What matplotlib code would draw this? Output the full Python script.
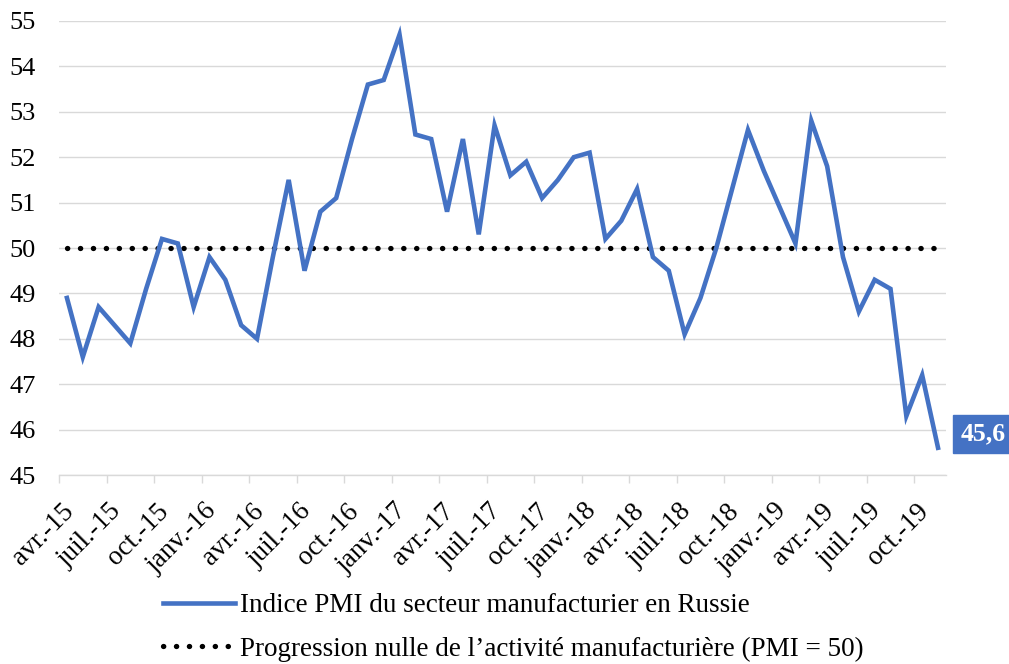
import matplotlib.pyplot as plt
from matplotlib.ticker import FixedLocator
from matplotlib.transforms import ScaledTranslation

plt.rcParams['font.family'] = ['Liberation Serif', 'DejaVu Serif']

# Indice PMI mensuel, avr. 2015 -> nov. 2019
pmi = [48.9, 47.6, 48.7, 48.3, 47.9, 49.1, 50.2, 50.1, 48.7,
       49.8, 49.3, 48.3, 48.0, 49.8, 51.5, 49.5, 50.8, 51.1, 52.4,
       53.6, 53.7, 54.7, 52.5, 52.4, 50.8, 52.4, 50.3, 52.7, 51.6,
       51.9, 51.1, 51.5, 52.0, 52.1, 50.2, 50.6, 51.3, 49.8, 49.5,
       48.1, 48.9, 50.0, 51.3, 52.6, 51.7, 50.9, 50.1, 52.8, 51.8,
       49.8, 48.6, 49.3, 49.1, 46.3, 47.2, 45.6]
seuil = [50.0] * len(pmi)
tick_labels = ['avr.-15', 'juil.-15', 'oct.-15', 'janv.-16', 'avr.-16', 'juil.-16',
               'oct.-16', 'janv.-17', 'avr.-17', 'juil.-17', 'oct.-17', 'janv.-18',
               'avr.-18', 'juil.-18', 'oct.-18', 'janv.-19', 'avr.-19', 'juil.-19',
               'oct.-19']
last_label = '45,6'

blue = '#4472C4'
x = list(range(len(pmi)))

fig = plt.figure(figsize=(10.09, 6.64), dpi=100)
ax = fig.add_axes([0.0585, 0.2846, 0.879, 0.6838])

ax.plot(x, pmi, color=blue, linewidth=3.3, solid_joinstyle='miter',
        label='Indice PMI du secteur manufacturier en Russie', zorder=3)
ax.plot(x, seuil, color='black', linewidth=3.8, linestyle=(0, (0.05, 2.4)),
        dash_capstyle='round',
        label='Progression nulle de l\u2019activité manufacturière (PMI = 50)', zorder=2)

ax.set_xlim(-0.5, len(pmi) - 0.5)
ax.set_ylim(45, 55)
ax.set_yticks(range(45, 56))
ax.yaxis.grid(True, color='#d9d9d9', linewidth=1)
ax.set_axisbelow(True)

for s in ['left', 'right', 'top']:
    ax.spines[s].set_visible(False)
ax.spines['bottom'].set_color('#d9d9d9')
ax.spines['bottom'].set_linewidth(1)

ax.tick_params(axis='y', length=0, pad=17, labelsize=19)
ax.set_xticks(range(0, len(pmi), 3))
ax.set_xticklabels(tick_labels, rotation=45, ha='right', va='top',
                   rotation_mode='anchor', fontsize=19.5)
ax.tick_params(axis='x', which='major', length=0, pad=17)
shift = ScaledTranslation(-4 / 72, 0, fig.dpi_scale_trans)
for lbl in ax.get_xticklabels():
    lbl.set_transform(lbl.get_transform() + shift)
ax.xaxis.set_minor_locator(FixedLocator([i - 0.5 for i in range(0, len(pmi), 3)]))
ax.tick_params(axis='x', which='minor', length=6, color='#d9d9d9', width=1)

ax.annotate(last_label, xy=(x[-1], pmi[-1]), xytext=(16, 10),
            textcoords='offset points', color='white', fontsize=18.5,
            fontweight='bold', ha='left', va='center',
            bbox=dict(boxstyle='square,pad=0.3', facecolor=blue, edgecolor=blue),
            annotation_clip=False)

fig.legend(loc='upper left', bbox_to_anchor=(163 / 1009, 1 - 593 / 664),
           frameon=False, fontsize=19.5, handlelength=2.65, handletextpad=0.2,
           labelspacing=0.68, borderpad=0, borderaxespad=0)

fig.savefig('out.png', dpi=100)
